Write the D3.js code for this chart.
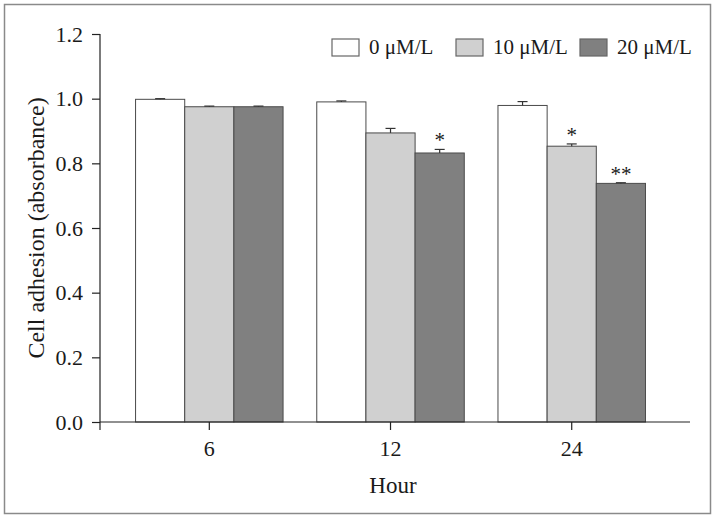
<!DOCTYPE html>
<html>
<head>
<meta charset="utf-8">
<script src="https://cdn.jsdelivr.net/npm/d3@7"></script>
<style>
  body { margin: 0; background: #fff; }
  svg { display: block; }
  text { font-family: "Liberation Serif", "DejaVu Serif", serif; fill: #1a1a1a; }
</style>
</head>
<body>
<svg id="chart" width="717" height="520"></svg>
<script>
const hours = ["6", "12", "24"];
const doses = ["0 μM/L", "10 μM/L", "20 μM/L"];
const doseFill = ["#ffffff", "#d0d0d0", "#808080"];

// mean absorbance per dose, one value per hour
const mean0 = [0.998, 0.990, 0.979];
const mean10 = [0.975, 0.894, 0.853];
const mean20 = [0.975, 0.832, 0.738];
// error (upper bar only)
const err0 = [0.002, 0.003, 0.012];
const err10 = [0.002, 0.014, 0.007];
const err20 = [0.002, 0.011, 0.002];
// significance marks
const sig0 = ["", "", ""];
const sig10 = ["", "", "*"];
const sig20 = ["", "*", "**"];

const yTicks = [0, 0.2, 0.4, 0.6, 0.8, 1.0, 1.2];

const means = [mean0, mean10, mean20];
const errs = [err0, err10, err20];
const sigs = [sig0, sig10, sig20];

const rows = [];
hours.forEach((h, i) => {
  doses.forEach((d, j) => {
    rows.push({ hour: h, dose: d, k: j, value: means[j][i], err: errs[j][i], sig: sigs[j][i] });
  });
});

const svg = d3.select("#chart");

// outer frame
svg.append("rect")
  .attr("x", 4.5).attr("y", 4.5)
  .attr("width", 706).attr("height", 509)
  .attr("fill", "none")
  .attr("stroke", "#8a8a8a")
  .attr("stroke-width", 1.5);

const plotL = 100, plotR = 690, plotT = 34, plotB = 422;

const x = d3.scaleBand()
  .domain(hours)
  .range([plotL, plotR])
  .paddingInner(0.186)
  .paddingOuter(0.221)
  .align(0.444);

const xs = d3.scaleBand()
  .domain(doses)
  .range([0, x.bandwidth()]);

const y = d3.scaleLinear()
  .domain([0, 1.2])
  .range([plotB, plotT]);

// bars
const g = svg.append("g");
g.selectAll("rect.bar")
  .data(rows)
  .enter()
  .append("rect")
  .attr("class", "bar")
  .attr("x", (d) => x(d.hour) + xs(d.dose))
  .attr("y", (d) => y(d.value))
  .attr("width", xs.bandwidth())
  .attr("height", (d) => y(0) - y(d.value))
  .attr("fill", (d) => doseFill[d.k])
  .attr("stroke", "#4a4a4a")
  .attr("stroke-width", 1);

// error bars (upper only)
const eb = g.selectAll("g.err")
  .data(rows)
  .enter()
  .append("g")
  .attr("class", "err")
  .attr("transform", (d) => `translate(${x(d.hour) + xs(d.dose) + xs.bandwidth() / 2},0)`);

eb.append("line")
  .attr("y1", (d) => y(d.value))
  .attr("y2", (d) => y(d.value + d.err))
  .attr("stroke", "#333")
  .attr("stroke-width", 1.2);

eb.append("line")
  .attr("x1", -5).attr("x2", 5)
  .attr("y1", (d) => y(d.value + d.err))
  .attr("y2", (d) => y(d.value + d.err))
  .attr("stroke", "#333")
  .attr("stroke-width", 1.2);

eb.append("text")
  .attr("text-anchor", "middle")
  .attr("y", (d) => y(d.value + d.err) - 2)
  .style("font-size", "21px")
  .text((d) => d.sig);

// y axis
const yAxis = svg.append("g")
  .attr("transform", `translate(${plotL},0)`)
  .call(d3.axisLeft(y).tickValues(yTicks).tickFormat(d3.format(".1f")).tickSize(8).tickSizeOuter(0).tickPadding(9));
yAxis.select(".domain").remove();
yAxis.append("line")
  .attr("y1", plotT).attr("y2", plotB + 8)
  .attr("stroke", "#222").attr("stroke-width", 1.2);
yAxis.selectAll(".tick line").attr("stroke", "#222").attr("stroke-width", 1.2);
yAxis.selectAll(".tick text")
  .style("font-family", "'Liberation Serif', serif")
  .style("font-size", "22px")
  .attr("fill", "#1a1a1a");

// x axis
const xAxis = svg.append("g")
  .attr("transform", `translate(0,${plotB})`)
  .call(d3.axisBottom(x).tickSize(8).tickSizeOuter(0).tickPadding(10));
xAxis.select(".domain").remove();
xAxis.append("line")
  .attr("x1", plotL).attr("x2", plotR)
  .attr("stroke", "#222").attr("stroke-width", 1.2);
xAxis.selectAll(".tick line").attr("stroke", "#222").attr("stroke-width", 1.2);
xAxis.selectAll(".tick text")
  .style("font-family", "'Liberation Serif', serif")
  .style("font-size", "22px")
  .attr("fill", "#1a1a1a");

// axis titles
svg.append("text")
  .attr("x", (plotL + plotR) / 2 - 2)
  .attr("y", 493)
  .attr("text-anchor", "middle")
  .style("font-size", "23px")
  .text("Hour");

svg.append("text")
  .attr("transform", `translate(44,${(plotT + plotB) / 2}) rotate(-90)`)
  .attr("text-anchor", "middle")
  .style("font-size", "24px")
  .text("Cell adhesion (absorbance)");

// legend
const legendX = [332, 456, 580];
const lg = svg.append("g")
  .selectAll("g")
  .data(doses)
  .enter()
  .append("g")
  .attr("transform", (d, i) => `translate(${legendX[i]},39)`);

lg.append("rect")
  .attr("width", 27).attr("height", 17)
  .attr("fill", (d, i) => doseFill[i])
  .attr("stroke", "#666")
  .attr("stroke-width", 1.2);

lg.append("text")
  .attr("x", 37)
  .attr("y", 15)
  .style("font-size", "21px")
  .text((d) => d);
</script>
</body>
</html>
